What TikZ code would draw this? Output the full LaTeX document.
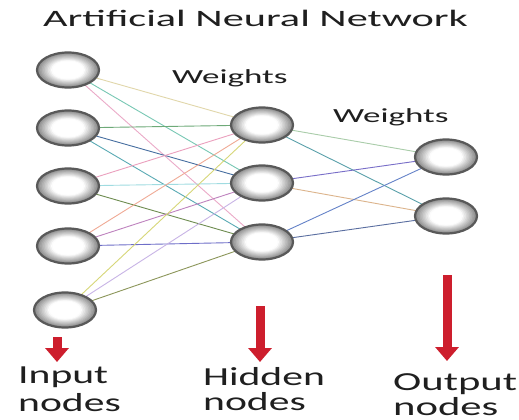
\documentclass[tikz,border=0pt]{standalone}
\usepackage{fontspec}
\setmainfont{Carlito}
\usetikzlibrary{shapes.geometric,arrows.meta}
\definecolor{arrowred}{RGB}{205,30,45}
% #1 font size, #2 horizontal stretch, #3 text
\newcommand{\widetext}[3]{{\fontsize{#1}{#1}\selectfont\scalebox{#2}[1]{#3}}}
\begin{document}
\begin{tikzpicture}[x=1pt,y=-1pt,
  neuron/.style={ellipse, minimum width=62pt, minimum height=35pt, inner sep=0pt,
    draw=black!65, line width=2.2pt,
    path picture={
      \foreach \k in {0,...,14}{
        \pgfmathsetmacro\f{1-\k*0.05}
        \pgfmathtruncatemacro\c{max(0,46-\k*5)}
        \fill[black!\c] (path picture bounding box.center)
          ellipse [x radius=31pt*\f, y radius=17.5pt*\f];
      }}},
  wire/.style={line width=0.9pt},
  downarrow/.style={arrowred, line width=9pt, -{Triangle[width=23pt,length=14pt]}},
  lbl/.style={anchor=base west, inner sep=0pt, text=black!88}]
\useasboundingbox (0,0) rectangle (519,420);
\fill[white] (0,0) rectangle (519,420);

% layers
\foreach \n/\x/\y in {i1/68/70, i2/68/128, i3/68/186, i4/68/246, i5/65/310,
                      h1/262/125, h2/262/183, h3/262/242,
                      o1/446/157, o2/446/216}
  \coordinate (c\n) at (\x,\y);

% connections input -> hidden
\begin{scope}[wire]
\draw[color={rgb,255:red,225;green,215;blue,170}] (ci1) -- (ch1);
\draw[color={rgb,255:red,120;green,200;blue,180}] (ci1) -- (ch2);
\draw[color={rgb,255:red,235;green,170;blue,200}] (ci1) -- (ch3);
\draw[color={rgb,255:red,110;green,170;blue,120}] (ci2) -- (ch1);
\draw[color={rgb,255:red,70;green,110;blue,160}] (ci2) -- (ch2);
\draw[color={rgb,255:red,90;green,170;blue,180}] (ci2) -- (ch3);
\draw[color={rgb,255:red,235;green,160;blue,190}] (ci3) -- (ch1);
\draw[color={rgb,255:red,160;green,220;blue,225}] (ci3) -- (ch2);
\draw[color={rgb,255:red,110;green,140;blue,80}] (ci3) -- (ch3);
\draw[color={rgb,255:red,240;green,170;blue,150}] (ci4) -- (ch1);
\draw[color={rgb,255:red,190;green,130;blue,190}] (ci4) -- (ch2);
\draw[color={rgb,255:red,110;green,110;blue,200}] (ci4) -- (ch3);
\draw[color={rgb,255:red,215;green,215;blue,120}] (ci5) -- (ch1);
\draw[color={rgb,255:red,200;green,180;blue,230}] (ci5) -- (ch2);
\draw[color={rgb,255:red,140;green,150;blue,90}] (ci5) -- (ch3);
% connections hidden -> output
\draw[color={rgb,255:red,170;green,205;blue,170}] (ch1) -- (co1);
\draw[color={rgb,255:red,90;green,160;blue,170}] (ch1) -- (co2);
\draw[color={rgb,255:red,120;green,110;blue,200}] (ch2) -- (co1);
\draw[color={rgb,255:red,220;green,180;blue,140}] (ch2) -- (co2);
\draw[color={rgb,255:red,100;green,130;blue,200}] (ch3) -- (co1);
\draw[color={rgb,255:red,90;green,110;blue,160}] (ch3) -- (co2);
\end{scope}

% neurons
\foreach \n in {i1,i2,i3,i4,i5,h1,h2,h3,o1,o2}
  \node[neuron] (\n) at (c\n) {};

% title and weight labels
\node[lbl] (title) at (43,27) {\widetext{23.5}{1.8}{Artificial Neural Network}};
\node[lbl] (w1) at (172,83) {\widetext{20}{1.75}{Weights}};
\node[lbl] (w2) at (333,122) {\widetext{20}{1.75}{Weights}};

% red arrows pointing at the layer names
\coordinate (ia) at (57,337);  \coordinate (ib) at (57,362);
\coordinate (ha) at (260,306); \coordinate (hb) at (260,362);
\coordinate (oa) at (447,275); \coordinate (ob) at (447,361);
\draw[downarrow] (ia) -- (ib);
\draw[downarrow] (ha) -- (hb);
\draw[downarrow] (oa) -- (ob);

% layer names
\node[lbl] (in1) at (18,383) {\widetext{26}{1.6}{Input}};
\node[lbl] (in2) at (18,411) {\widetext{26}{1.6}{nodes}};
\node[lbl] (hd1) at (203,385) {\widetext{26}{1.6}{Hidden}};
\node[lbl] (hd2) at (203,410) {\widetext{26}{1.6}{nodes}};
\node[lbl] (ou1) at (393,390) {\widetext{26}{1.64}{Output}};
\node[lbl] (ou2) at (393,415) {\widetext{26}{1.64}{nodes}};
\end{tikzpicture}
\end{document}
